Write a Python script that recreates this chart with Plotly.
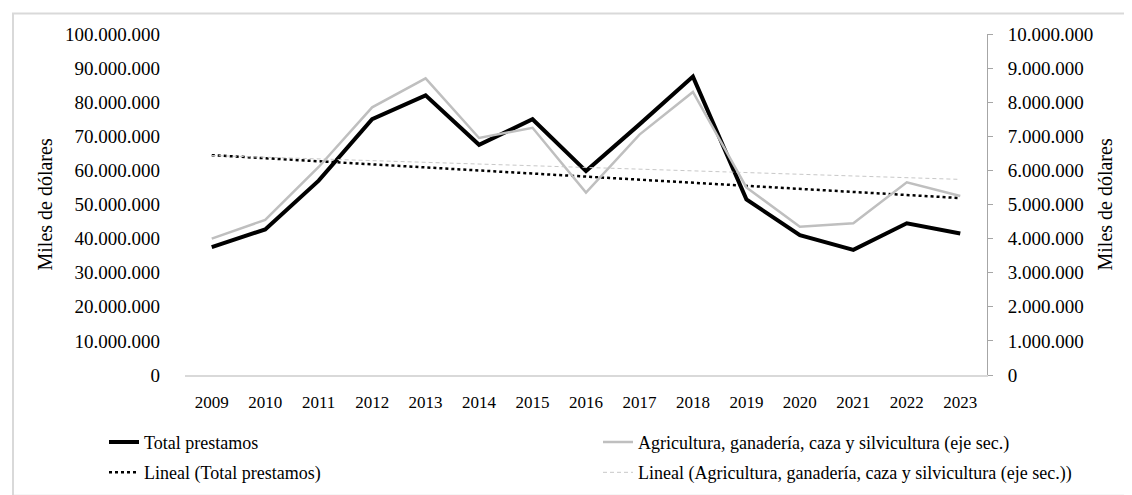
import numpy as np
import plotly.graph_objects as go

# data (miles de dólares)
years = [str(y) for y in range(2009, 2024)]
total_prestamos = [37.5e6, 42.7e6, 57.0e6, 75.0e6, 82.0e6, 67.5e6, 75.0e6, 59.8e6,
                   73.5e6, 87.5e6, 51.5e6, 41.0e6, 36.7e6, 44.5e6, 41.5e6]
agricultura = [4.00e6, 4.55e6, 6.10e6, 7.85e6, 8.70e6, 6.95e6, 7.25e6, 5.35e6,
               7.05e6, 8.30e6, 5.50e6, 4.35e6, 4.45e6, 5.65e6, 5.25e6]

name_total = "Total prestamos"
name_agri = "Agricultura, ganadería, caza y silvicultura (eje sec.)"

W, H = 1132, 495
L, R, T, B = 177, 153, 26, 119
PW, PH = W - L - R, H - T - B


def px_x(p):
    return (p - L) / PW


def px_y(p):
    return (H - B - p) / PH


def linear_trend(values):
    # same least-squares line that Excel draws as "Lineal"
    idx = np.arange(len(values))
    slope, icpt = np.polyfit(idx, values, 1)
    return list(slope * idx + icpt)


FONT = "Liberation Serif"

fig = go.Figure()
fig.add_trace(go.Scatter(x=years, y=total_prestamos, name=name_total, mode="lines",
                         line=dict(color="black", width=4), legend="legend",
                         legendgroup="a"))
fig.add_trace(go.Scatter(x=years, y=linear_trend(total_prestamos),
                         name="Lineal (Total prestamos)", mode="lines",
                         line=dict(color="black", width=2.5, dash="dot"),
                         legend="legend", legendgroup="b"))
fig.add_trace(go.Scatter(x=years, y=agricultura, name=name_agri, mode="lines",
                         line=dict(color="#bfbfbf", width=2.5), yaxis="y2",
                         legend="legend2", legendgroup="c"))
fig.add_trace(go.Scatter(x=years, y=linear_trend(agricultura),
                         name="Lineal (" + name_agri + ")", mode="lines",
                         line=dict(color="#c8c8c8", width=1, dash="4px,3px"),
                         yaxis="y2", legend="legend2", legendgroup="d"))

legend_style = dict(orientation="v", xanchor="left", yanchor="top", y=px_y(426),
                    font=dict(family=FONT, size=18, color="black"),
                    bgcolor="rgba(0,0,0,0)", tracegroupgap=4)

fig.update_layout(
    width=W, height=H,
    margin=dict(l=L, r=R, t=T, b=B),
    paper_bgcolor="white", plot_bgcolor="white",
    separators=",.",
    font=dict(family=FONT, color="black"),
    xaxis=dict(type="category", range=[-0.5, 14.5], showgrid=False,
               showline=True, linecolor="#d9d9d9", linewidth=1.5,
               ticks="", tickfont=dict(family=FONT, size=17), ticklabelstandoff=11),
    yaxis=dict(range=[0, 100e6], dtick=10e6, tickformat=",d", showgrid=False,
               zeroline=False, showline=False, ticks="",
               tickfont=dict(family=FONT, size=19), ticklabelstandoff=24),
    yaxis2=dict(range=[0, 10e6], dtick=1e6, tickformat=",d", overlaying="y",
                side="right", showgrid=False, zeroline=False, showline=True,
                linecolor="#a6a6a6", linewidth=1, ticks="outside", ticklen=5,
                tickcolor="#a6a6a6", tickfont=dict(family=FONT, size=19),
                ticklabelstandoff=11),
    legend=dict(x=px_x(96), **legend_style),
    legend2=dict(x=px_x(590), **legend_style),
    showlegend=True,
)

for xp in (36, 1096):
    fig.add_annotation(text="Miles de dólares", xref="paper", yref="paper",
                       x=px_x(xp), y=px_y(201), xanchor="center", yanchor="middle",
                       textangle=-90, showarrow=False,
                       font=dict(family=FONT, size=20, color="black"))

# light frame around the whole chart
fig.add_shape(type="rect", xref="paper", yref="paper",
              x0=px_x(5), x1=px_x(1140), y0=px_y(500), y1=px_y(5),
              line=dict(color="#d9d9d9", width=2), layer="below")

fig.write_html("out.html")
